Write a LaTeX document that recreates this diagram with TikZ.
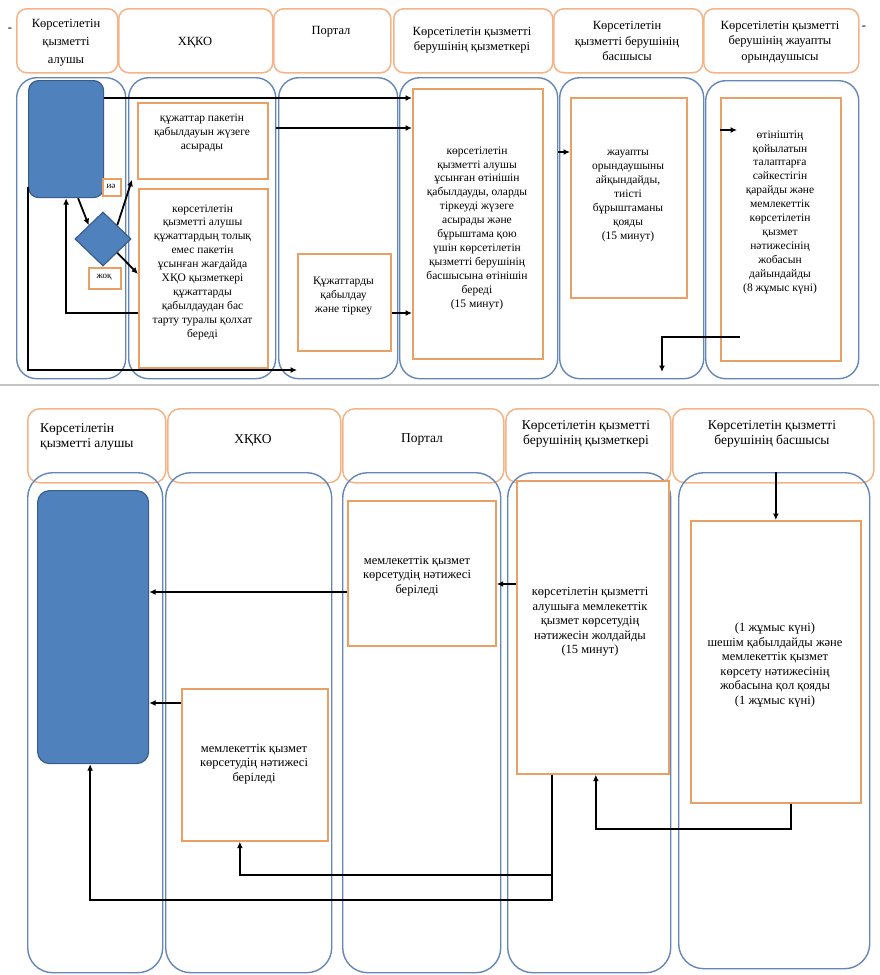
\documentclass[tikz,border=0pt]{standalone}
\usepackage{fontspec}
\setmainfont{Liberation Serif}
\usetikzlibrary{shapes.geometric,arrows.meta,calc}
\definecolor{hdr}{RGB}{244,180,135}
\definecolor{bxo}{RGB}{232,160,100}
\definecolor{lanec}{RGB}{100,135,185}
\definecolor{bfill}{RGB}{79,129,189}
\definecolor{bdraw}{RGB}{56,93,138}
\definecolor{sepc}{RGB}{195,195,195}
\tikzset{
  hdrbox/.style={draw=hdr, line width=1.5pt, rounded corners=10pt, fill=white, anchor=north west, inner sep=0pt},
  lanebox/.style={draw=lanec, line width=1.4pt, rounded corners=20pt, anchor=north west, inner sep=0pt},
  procbox/.style={draw=bxo, line width=1.7pt, fill=white, anchor=north west, inner sep=0pt},
  startbox/.style={draw=bdraw, line width=1.2pt, fill=bfill, rounded corners=10pt, anchor=north west, inner sep=0pt},
  decbox/.style={diamond, draw=bdraw, fill=bfill, line width=1.2pt, inner sep=0pt, minimum width=56pt, minimum height=54pt},
  htxt/.style={align=center, font=\fontsize{12.5}{15.5}\selectfont, inner sep=0pt},
  bhtxt/.style={align=center, font=\fontsize{13.5}{14.5}\selectfont, inner sep=0pt},
  ctxt/.style={align=center, font=\fontsize{11.5}{13.9}\selectfont, inner sep=0pt},
  bctxt/.style={align=center, font=\fontsize{12.5}{14.5}\selectfont, inner sep=0pt},
  lbltxt/.style={align=center, font=\fontsize{9}{10}\selectfont, inner sep=0pt},
  arr/.style={-{Latex[length=6.5pt,width=6pt]}, line width=1.8pt, black},
}
\begin{document}
\begin{tikzpicture}[x=1pt,y=-1pt]
\useasboundingbox (0,0) rectangle (879,975);
\fill[white] (0,0) rectangle (879,975);

% ---------- top part: headers ----------
\node[hdrbox, minimum width=101pt, minimum height=64pt] (H1) at (16,8) {};
\node[hdrbox, minimum width=154pt, minimum height=64pt] (H2) at (118,8) {};
\node[hdrbox, minimum width=117pt, minimum height=64pt] (H3) at (273,8) {};
\node[hdrbox, minimum width=159pt, minimum height=64pt] (H4) at (393,8) {};
\node[hdrbox, minimum width=149pt, minimum height=64pt] (H5) at (553,8) {};
\node[hdrbox, minimum width=155pt, minimum height=64pt] (H6) at (703,8) {};
\node[htxt, font=\fontsize{12.5}{18}\selectfont] (tH1) at (66,43) {Көрсетілетін\\қызметті\\алушы};
\node[htxt] (tH2) at (195,43) {ХҚКО};
\node[htxt] (tH3) at (331,32) {Портал};
\node[htxt] (tH4) at (472,40) {Көрсетілетін қызметті\\берушінің қызметкері};
\node[htxt] (tH5) at (627,41) {Көрсетілетін\\қызметті берушінің\\басшысы};
\node[htxt] (tH6) at (780,42) {Көрсетілетін қызметті\\берушінің жауапты\\орындаушысы};
\node[htxt] (dashL) at (10,30) {-};
\node[htxt] (dashR) at (864,28) {-};

% ---------- top part: lanes ----------
\node[lanebox, minimum width=109pt, minimum height=301pt] (L1) at (16,77) {};
\node[lanebox, minimum width=147pt, minimum height=301pt] (L2) at (128,77) {};
\node[lanebox, minimum width=119pt, minimum height=301pt] (L3) at (278,77) {};
\node[lanebox, minimum width=158pt, minimum height=301pt] (L4) at (399,77) {};
\node[lanebox, minimum width=144pt, minimum height=301pt] (L5) at (559,77) {};
\node[lanebox, minimum width=153pt, minimum height=298pt] (L6) at (705,80) {};

% ---------- top part: content ----------
\node[startbox, minimum width=75pt, minimum height=117pt] (start) at (28,80) {};
\node[decbox] (dia) at (103,239) {};
\node[procbox, minimum width=18pt, minimum height=17pt] (yes) at (102,178) {};
\node[lbltxt] (tyes) at (111,186.5) {иә};
\node[procbox, minimum width=32pt, minimum height=21pt] (no) at (88,267) {};
\node[lbltxt] (tno) at (104,277.5) {жоқ};
\node[procbox, minimum width=130pt, minimum height=76pt] (box1) at (137,102) {};
\node[ctxt] (tbox1) at (202,133) {құжаттар пакетін\\қабылдауын жүзеге\\асырады};
\node[procbox, minimum width=129pt, minimum height=179pt] (box2) at (138,188) {};
\node[ctxt] (tbox2) at (202.5,272) {көрсетілетін\\қызметті алушы\\құжаттардың толық\\емес пакетін\\ұсынған жағдайда\\ХҚО қызметкері\\құжаттарды\\қабылдаудан бас\\тарту туралы қолхат\\береді};
\node[procbox, minimum width=93pt, minimum height=97pt] (portal) at (297,253) {};
\node[ctxt] (tportal) at (343.5,296) {Құжаттарды\\қабылдау\\және тіркеу};
\node[procbox, minimum width=130pt, minimum height=270pt] (staff) at (412,88) {};
\node[ctxt] (tstaff) at (477,228) {көрсетілетін\\қызметті алушы\\ұсынған өтінішін\\қабылдауды, оларды\\тіркеуді жүзеге\\асырады және\\бұрыштама қою\\үшін көрсетілетін\\қызметті берушінің\\басшысына өтінішін\\береді\\(15 минут)};
\node[procbox, minimum width=116pt, minimum height=200pt] (head) at (570,97) {};
\node[ctxt] (thead) at (628,196) {жауапты\\орындаушыны\\айқындайды,\\тиісті\\бұрыштаманы\\қояды\\(15 минут)};
\node[procbox, minimum width=120pt, minimum height=263pt] (exec) at (720,97) {};
\node[ctxt] (texec) at (780,212) {өтініштің\\қойылатын\\талаптарға\\сәйкестігін\\қарайды және\\мемлекеттік\\көрсетілетін\\қызмет\\нәтижесінің\\жобасын\\дайындайды\\(8 жұмыс күні)};

% ---------- top part: connectors ----------
\draw[arr] (start.east |- 0,98) -- (staff.west |- 0,98);
\draw[arr] (L2.east |- 0,128) -- (staff.west |- 0,128);
\draw[arr] (portal.east |- 0,313) -- (staff.west |- 0,313);
\draw[arr] (L4.east |- 0,152) -- (head.west |- 0,152);
\draw[arr] (exec.west |- 0,130) -- ++(17,0);
\coordinate (exout) at (740,337);
\coordinate (exdown) at (662,372);
\draw[arr] (exout) -| (exdown);
\draw[arr] ([xshift=12pt]start.south) -- (dia.north west);
\draw[arr] (dia.north east) -- ([xshift=-5pt]box1.south west);
\draw[arr] (dia.south east) -- (box2.west |- 0,274);
\draw[arr] (box2.west |- 0,313) -| (start.south);
\draw[arr] (start.west |- 0,187) |- (portal.west |- 0,370);

% ---------- separator ----------
\draw[sepc, line width=2pt] (0,385) -- (879,385);

% ---------- bottom part: headers ----------
\node[hdrbox, rounded corners=12pt, minimum width=138pt, minimum height=74pt] (BH1) at (27,408) {};
\node[hdrbox, rounded corners=12pt, minimum width=173pt, minimum height=74pt] (BH2) at (167,408) {};
\node[hdrbox, rounded corners=12pt, minimum width=161pt, minimum height=74pt] (BH3) at (342,408) {};
\node[hdrbox, rounded corners=12pt, minimum width=165pt, minimum height=74pt] (BH4) at (505,408) {};
\node[hdrbox, rounded corners=12pt, minimum width=201pt, minimum height=74pt] (BH5) at (672,408) {};
\node[bhtxt, align=left, anchor=west] (tBH1) at (40,437) {Көрсетілетін\\қызметті алушы};
\node[bhtxt] (tBH2) at (253,440) {ХҚКО};
\node[bhtxt] (tBH3) at (422,440) {Портал};
\node[bhtxt] (tBH4) at (586,434) {Көрсетілетін қызметті\\берушінің қызметкері};
\node[bhtxt] (tBH5) at (772,434) {Көрсетілетін қызметті\\берушінің басшысы};

% ---------- bottom part: lanes ----------
\node[lanebox, rounded corners=25pt, minimum width=135pt, minimum height=500pt] (BL1) at (27,472) {};
\node[lanebox, rounded corners=25pt, minimum width=166pt, minimum height=500pt] (BL2) at (165,472) {};
\node[lanebox, rounded corners=25pt, minimum width=158pt, minimum height=500pt] (BL3) at (342,472) {};
\node[lanebox, rounded corners=25pt, minimum width=163pt, minimum height=500pt] (BL4) at (507,472) {};
\node[lanebox, rounded corners=25pt, minimum width=191pt, minimum height=496pt] (BL5) at (678,472) {};

% ---------- bottom part: content ----------
\node[startbox, rounded corners=12pt, minimum width=111pt, minimum height=273pt] (bstart) at (37,490) {};
\node[procbox, minimum width=148pt, minimum height=145pt] (bportal) at (347,500) {};
\node[bctxt] (tbportal) at (417,576) {мемлекеттік қызмет\\көрсетудің нәтижесі\\беріледі};
\node[procbox, minimum width=152pt, minimum height=293pt] (bstaff) at (516,480) {};
\node[bctxt] (tbstaff) at (590,622) {көрсетілетін қызметті\\алушыға мемлекеттік\\қызмет көрсетудің\\нәтижесін жолдайды\\(15 минут)};
\node[procbox, minimum width=170pt, minimum height=282pt] (bhead) at (690,520) {};
\node[bctxt] (tbhead) at (775,665) {(1 жұмыс күні)\\шешім қабылдайды және\\мемлекеттік қызмет\\көрсету нәтижесінің\\жобасына қол қояды\\(1 жұмыс күні)};
\node[procbox, minimum width=146pt, minimum height=152pt] (bxkko) at (181,688) {};
\node[bctxt] (tbxkko) at (254,764) {мемлекеттік қызмет\\көрсетудің нәтижесі\\беріледі};

% ---------- bottom part: connectors ----------
\draw[arr] (bhead.north |- BL5.north) -- (bhead.north);
\draw[arr] (bstaff.west |- 0,584) -- (bportal.east |- 0,584);
\draw[arr] (bportal.west |- 0,592) -- (bstart.east |- 0,592);
\draw[arr] (bxkko.west |- 0,703) -- (bstart.east |- 0,703);
\draw[arr] ([xshift=15pt]bhead.south) -- ++(0,25) -| ([xshift=3pt]bstaff.south);
\draw[arr] ([xshift=-41pt]bstaff.south) -- ++(0,100) -| ([xshift=-15pt]bxkko.south);
\draw[arr] ([xshift=-41pt]bstaff.south) -- ++(0,125) -| ([xshift=-3pt]bstart.south);
\end{tikzpicture}
\end{document}
